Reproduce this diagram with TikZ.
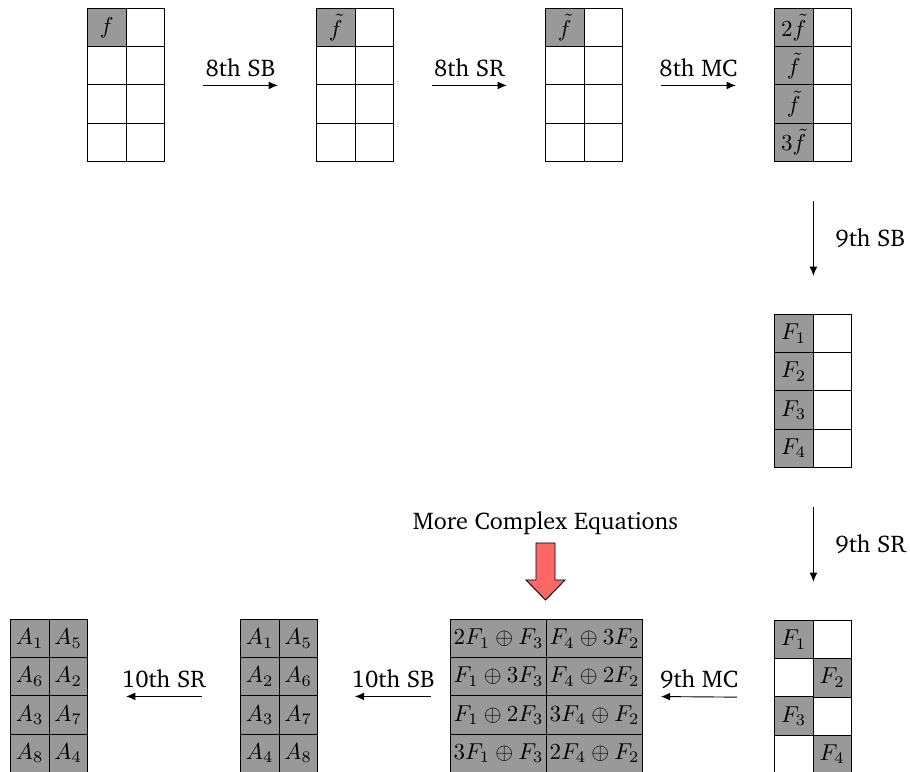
\documentclass[tikz,border=0pt]{standalone}
\usepackage[T1]{fontenc}
\usepackage{charter}
\usetikzlibrary{
    arrows.meta,
    positioning,
    calc,
}

\begin{document}
\begin{tikzpicture}[
        x=0.435pt, y=-0.435pt,
        cell/.style={draw, minimum width=16.75pt, minimum height=16.64pt,
            inner sep=0pt, anchor=north west},
        wide/.style={cell, minimum width=41.8pt},
        shade/.style={fill=gray!80},
        flow/.style={-{Latex[length=4pt, width=3.4pt]},
            shorten <=16.6pt, shorten >=16.6pt},
        txt/.style={font=\fontsize{10.5pt}{12.5pt}\selectfont},
    ]
        \useasboundingbox (0,0) rectangle (910,772);

        % Empty grids
        \foreach \g/\gx/\gy in {g1/87/8, g2/316/8, g3/545/8, g4/774/8,
                g5/774/314, g6/774/620, a2/240/619, a1/10/619} {
            \foreach \r in {1,...,4} {
                \foreach \c in {1,2} {
                    \node[cell] (\g-\r-\c) at ({\gx+38.5*(\c-1)}, {\gy+38.25*(\r-1)}) {};
                }
            }
        }

        % Filled cells
        \foreach \g/\r/\c/\t in {g1/1/1/{$f$}, g2/1/1/{$\tilde{f}$}, g3/1/1/{$\tilde{f}$},
                g4/1/1/{$2\tilde{f}$}, g4/2/1/{$\tilde{f}$}, g4/3/1/{$\tilde{f}$}, g4/4/1/{$3\tilde{f}$},
                g5/1/1/{$F_1$}, g5/2/1/{$F_2$}, g5/3/1/{$F_3$}, g5/4/1/{$F_4$},
                g6/1/1/{$F_1$}, g6/2/2/{$F_2$}, g6/3/1/{$F_3$}, g6/4/2/{$F_4$},
                a2/1/1/{$A_1$}, a2/1/2/{$A_5$}, a2/2/1/{$A_2$}, a2/2/2/{$A_6$},
                a2/3/1/{$A_3$}, a2/3/2/{$A_7$}, a2/4/1/{$A_4$}, a2/4/2/{$A_8$},
                a1/1/1/{$A_1$}, a1/1/2/{$A_5$}, a1/2/1/{$A_6$}, a1/2/2/{$A_2$},
                a1/3/1/{$A_3$}, a1/3/2/{$A_7$}, a1/4/1/{$A_8$}, a1/4/2/{$A_4$}} {
            \node[cell, shade, anchor=center] (\g-\r-\c) at (\g-\r-\c) {\t};
        }

        % Mix columns grid
        \foreach \r/\tl/\tr in {1/{$2F_1\oplus F_3$}/{$F_4\oplus 3F_2$},
                2/{$F_1\oplus 3F_3$}/{$F_4\oplus 2F_2$},
                3/{$F_1\oplus 2F_3$}/{$3F_4\oplus F_2$},
                4/{$3F_1\oplus F_3$}/{$2F_4\oplus F_2$}} {
            \node[wide, shade] (mc-\r-1) at (450, {619+38.25*(\r-1)}) {\tl};
            \node[wide, shade] (mc-\r-2) at (546, {619+38.25*(\r-1)}) {\tr};
        }

        % Steps
        \draw[flow] (g1-2-2.south east) -- node[txt, above] (s1) {8th SB} (g2-2-1.south west);
        \draw[flow] (g2-2-2.south east) -- node[txt, above] (s2) {8th SR} (g3-2-1.south west);
        \draw[flow] (g3-2-2.south east) -- node[txt, above] (s3) {8th MC} (g4-2-1.south west);
        \draw[flow, shorten <=17pt] (g4-4-1.south east) -- node[txt, right=6pt] (s4) {9th SB} (g5-1-1.north east);
        \draw[flow, shorten <=17pt] (g5-4-1.south east) -- node[txt, right=6pt] (s5) {9th SR} (g6-1-1.north east);
        \draw[flow, shorten <=16.1pt, shorten >=7.8pt] (g6-2-1.south west)
            -- node[txt, above, pos=0.572] (s6) {9th MC} (mc-2-2.south east);
        \draw[flow, shorten <=8.3pt, shorten >=16.1pt] (mc-2-1.south west)
            -- node[txt, above, pos=0.43] (s7) {10th SB} (a2-2-2.south east);
        \draw[flow] (a2-2-1.south west) -- node[txt, above] (s8) {10th SR} (a1-2-2.south east);

        % Note
        \node[txt] (note) at (545.5, 523) {More Complex Equations};
        \draw[fill=red!60] (536,543) -- (555,543) -- (555,580) -- (565,580)
            -- (545.5,600) -- (526,580) -- (536,580) -- cycle;
    \end{tikzpicture}
\end{document}
